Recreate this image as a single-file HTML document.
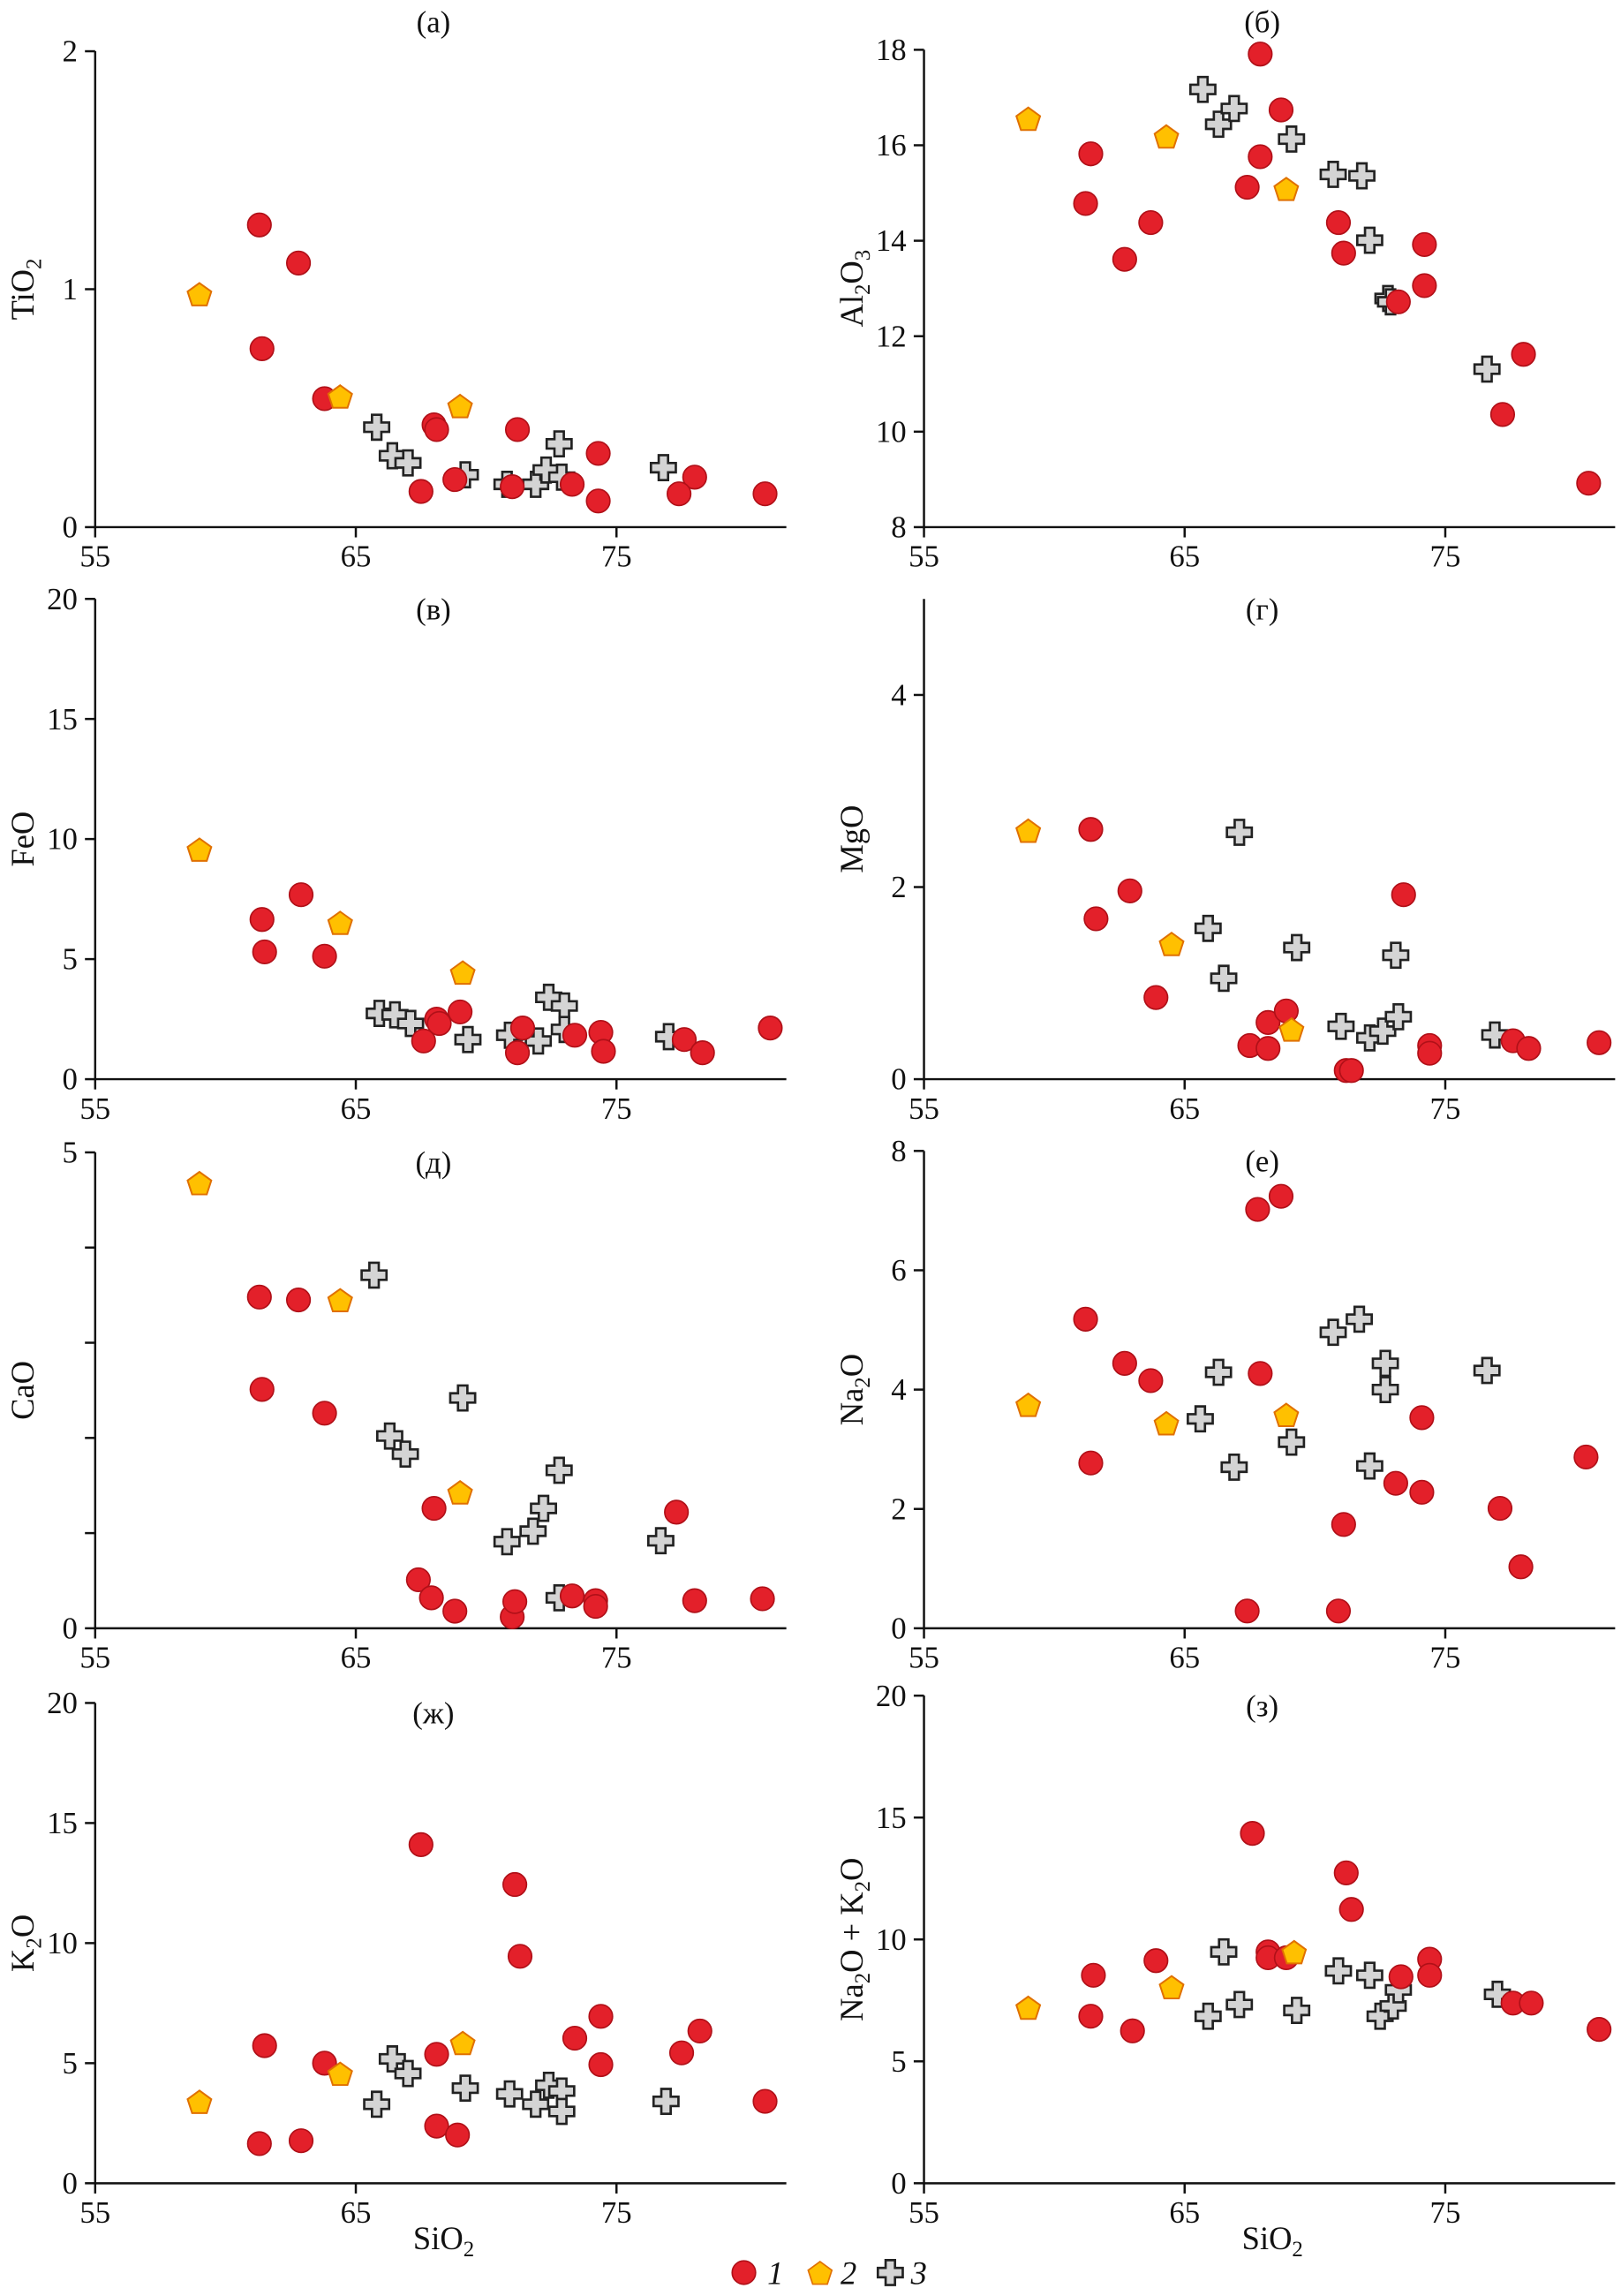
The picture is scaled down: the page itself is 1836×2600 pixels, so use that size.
<!DOCTYPE html>
<html><head><meta charset="utf-8"><style>
html,body{margin:0;padding:0;background:#fff}
svg{display:block}
text{font-family:"Liberation Serif","DejaVu Serif",serif;fill:#111}
</style></head><body>
<svg id="chart" width="1836" height="2600" viewBox="0 0 1107 1568" preserveAspectRatio="none" xmlns="http://www.w3.org/2000/svg"></svg>
<script>
const panelLabels=["(а)","(б)","(в)","(г)","(д)","(е)","(ж)","(з)"];
const panelYMax=[2,18,20,5,5,8,20,20];
const panelYMin=[0,8,0,0,0,0,0,0];
const panelYTicks=[[0,1,2],[8,10,12,14,16,18],[0,5,10,15,20],[0,2,4],[0,1,2,3,4,5],[0,2,4,6,8],[0,5,10,15,20],[0,5,10,15,20]];
const panelYTickLabels=[["0","1","2"],["8","10","12","14","16","18"],["0","5","10","15","20"],["0","2","4"],["0","","","","","5"],["0","2","4","6","8"],["0","5","10","15","20"],["0","5","10","15","20"]];
const xTicks=[55,65,75];
const red_a=[[61.3,1.27],[62.8,1.11],[61.4,0.75],[63.8,0.54],[68.0,0.43],[68.1,0.41],[71.2,0.41],[74.3,0.31],[68.8,0.20],[67.5,0.15],[71.0,0.17],[73.3,0.18],[78.0,0.21],[77.4,0.14],[74.3,0.11],[80.7,0.14]];
const orange_a=[[59.0,0.98],[64.4,0.55],[69.0,0.51]];
const cross_a=[[65.8,0.42],[66.4,0.30],[67.0,0.27],[69.2,0.22],[70.8,0.18],[71.9,0.18],[72.3,0.24],[72.8,0.35],[72.9,0.21],[76.8,0.25]];
const red_b=[[61.4,15.82],[61.2,14.78],[62.7,13.61],[63.7,14.38],[67.9,17.91],[68.7,16.74],[67.9,15.76],[67.4,15.12],[70.9,14.38],[71.1,13.74],[73.2,12.72],[74.2,13.92],[74.2,13.06],[78.0,11.62],[77.2,10.36],[80.5,8.92]];
const orange_b=[[59.0,16.56],[64.3,16.19],[68.9,15.09]];
const cross_b=[[65.7,17.17],[66.3,16.44],[66.9,16.77],[69.1,16.13],[70.7,15.39],[71.8,15.36],[72.1,14.01],[72.8,12.79],[72.9,12.72],[76.6,11.31]];
const red_c=[[61.4,6.65],[61.5,5.30],[62.9,7.68],[63.8,5.12],[67.6,1.59],[68.1,2.50],[68.2,2.32],[69.0,2.80],[71.2,1.10],[71.4,2.13],[73.4,1.83],[74.4,1.95],[74.5,1.16],[77.6,1.65],[78.3,1.10],[80.9,2.13]];
const orange_c=[[59.0,9.57],[64.4,6.52],[69.1,4.45]];
const cross_c=[[65.9,2.74],[66.5,2.68],[67.1,2.32],[69.3,1.65],[70.9,1.83],[72.0,1.59],[72.4,3.41],[73.0,3.05],[73.0,2.07],[77.0,1.77]];
const red_d=[[61.4,2.60],[61.6,1.67],[62.9,1.96],[63.9,0.85],[68.2,0.59],[68.9,0.71],[67.5,0.35],[68.2,0.32],[71.2,0.09],[71.4,0.09],[73.4,1.92],[74.4,0.35],[74.4,0.27],[77.6,0.40],[78.2,0.32],[80.9,0.38]];
const orange_d=[[59.0,2.59],[64.5,1.41],[69.1,0.52]];
const cross_d=[[65.9,1.57],[66.5,1.05],[67.1,2.57],[69.3,1.37],[71.0,0.55],[72.1,0.43],[72.6,0.50],[73.1,1.29],[73.2,0.65],[76.9,0.46]];
const red_e=[[61.3,3.48],[62.8,3.45],[61.4,2.51],[63.8,2.26],[68.0,1.26],[67.4,0.51],[67.9,0.32],[68.8,0.18],[71.0,0.12],[71.1,0.28],[73.3,0.34],[74.2,0.29],[74.2,0.23],[77.3,1.22],[78.0,0.29],[80.6,0.31]];
const orange_e=[[59.0,4.68],[64.4,3.45],[69.0,1.43]];
const cross_e=[[65.7,3.71],[66.3,2.02],[66.9,1.83],[69.1,2.42],[70.8,0.91],[71.8,1.02],[72.2,1.26],[72.8,1.66],[72.8,0.32],[76.7,0.92]];
const red_f=[[61.2,5.18],[61.4,2.77],[62.7,4.44],[63.7,4.15],[67.8,7.02],[68.7,7.24],[67.9,4.27],[67.4,0.29],[70.9,0.29],[71.1,1.74],[73.1,2.43],[74.1,3.53],[74.1,2.28],[77.1,2.01],[77.9,1.03],[80.4,2.87]];
const orange_f=[[59.0,3.75],[64.3,3.44],[68.9,3.58]];
const cross_f=[[65.6,3.51],[66.3,4.29],[66.9,2.70],[69.1,3.12],[70.7,4.96],[71.7,5.18],[72.1,2.72],[72.7,4.44],[72.7,4.00],[76.6,4.32]];
const red_g=[[61.3,1.65],[62.9,1.77],[61.5,5.73],[63.8,5.0],[67.5,14.1],[68.1,5.37],[68.1,2.38],[68.9,2.01],[71.1,12.44],[71.3,9.45],[73.4,6.04],[74.4,6.95],[74.4,4.94],[77.5,5.43],[78.2,6.34],[80.7,3.41]];
const orange_g=[[59.0,3.4],[64.4,4.57],[69.1,5.85]];
const cross_g=[[65.8,3.29],[66.4,5.18],[67.0,4.57],[69.2,3.96],[70.9,3.72],[71.9,3.29],[72.4,4.08],[72.9,3.84],[72.9,2.99],[76.9,3.41]];
const red_h=[[61.4,6.85],[61.5,8.53],[63.0,6.25],[63.9,9.13],[67.6,14.35],[68.2,9.49],[68.2,9.25],[68.9,9.25],[71.2,12.73],[71.4,11.23],[73.3,8.47],[74.4,9.19],[74.4,8.53],[77.6,7.39],[78.3,7.39],[80.9,6.31]];
const orange_h=[[59.0,7.21],[64.5,8.05],[69.2,9.49]];
const cross_h=[[65.9,6.85],[66.5,9.49],[67.1,7.33],[69.3,7.09],[70.9,8.71],[72.1,8.53],[72.5,6.85],[73.0,7.27],[73.2,7.93],[77.0,7.75]];

const reds=[red_a,red_b,red_c,red_d,red_e,red_f,red_g,red_h];
const oranges=[orange_a,orange_b,orange_c,orange_d,orange_e,orange_f,orange_g,orange_h];
const crosses=[cross_a,cross_b,cross_c,cross_d,cross_e,cross_f,cross_g,cross_h];

const NS="http://www.w3.org/2000/svg";
const svg=document.getElementById('chart');
function mk(tag,attrs,parent){const e=document.createElementNS(NS,tag);for(const k in attrs)e.setAttribute(k,attrs[k]);(parent||svg).appendChild(e);return e;}
const geo=[[65,537,360,35],[631,1103,360,34],[65,537,737,409],[631,1103,737,409],[65,537,1112,787],[631,1103,1112,786],[65,537,1491,1163],[631,1103,1491,1158]];
const yTitles=[["TiO","2",""],["Al","2","O","3"],["FeO"],["MgO"],["CaO"],["Na","2","O"],["K","2","O"],["Na","2","O + K","2","O"]];
const names=["a","b","v","g","d","e","zh","z"];
function pent(cx,cy,r){let p=[];for(let i=0;i<5;i++){const a=-Math.PI/2+i*2*Math.PI/5;p.push((cx+r*Math.cos(a)).toFixed(1)+","+(cy+r*Math.sin(a)).toFixed(1));}return p.join(" ");}
function crossPath(cx,cy){const a=3.2,b=8.5;return `M${cx-a},${cy-b}H${cx+a}V${cy-a}H${cx+b}V${cy+a}H${cx+a}V${cy+b}H${cx-a}V${cy+a}H${cx-b}V${cy-a}H${cx-a}Z`;}
for(let p=0;p<8;p++){
  const [x0,x1,yb,yt]=geo[p];
  const xs=v=>x0+(v-55)*17.8;
  const ys=v=>yb-(v-panelYMin[p])/(panelYMax[p]-panelYMin[p])*(yb-yt);
  const g=mk('g',{});
  
  
  const ax=mk('path',{d:`M${x0},${yt}V${yb}H${x1}`,stroke:'#111','stroke-width':1.5,fill:'none'},g);
  
  
  panelYTicks[p].forEach((t,i)=>{const y=ys(t);mk('line',{x1:x0-7,x2:x0,y1:y,y2:y,stroke:'#111','stroke-width':1.5},g);
    if(panelYTickLabels[p][i]){const tx=mk('text',{x:x0-12,y:y+7,'text-anchor':'end','font-size':21},g);tx.textContent=panelYTickLabels[p][i];
    }});
  xTicks.forEach(t=>{const x=xs(t);mk('line',{x1:x,x2:x,y1:yb,y2:yb+7,stroke:'#111','stroke-width':1.5},g);
    const tx=mk('text',{x:x,y:yb+27,'text-anchor':'middle','font-size':21},g);tx.textContent=t;
    });
  const lt=mk('text',{x:(x0+x1)/2-5,y:p<2?22:yt+14,'text-anchor':'middle','font-size':21},g);
  lt.textContent=panelLabels[p];
  
  const yt2=mk('text',{transform:`translate(${x0-42},${(yt+yb)/2}) rotate(-90)`,'text-anchor':'middle','font-size':22},g);
  
  const parts=yTitles[p];
  parts.forEach((s,i)=>{const ts=mk('tspan',{},yt2);ts.textContent=s;
    if(i%2==1){ts.setAttribute('font-size',15);ts.setAttribute('dy',5);}else if(i>0){ts.setAttribute('dy',-5);}});
  if(p>=6){const xt=mk('text',{x:xs(65)+60,y:yb+45,'text-anchor':'middle','font-size':22},g);
    
    const a=mk('tspan',{},xt);a.textContent='SiO';const b=mk('tspan',{dy:5,'font-size':15},xt);b.textContent='2';}
  crosses[p].forEach(d=>{const e=mk('path',{d:crossPath(xs(d[0]),ys(d[1])),fill:'#d4d4d4',stroke:'#222','stroke-width':1.6},g);
    });
  reds[p].forEach(d=>{const e=mk('circle',{cx:xs(d[0]),cy:ys(d[1]),r:8,fill:'#e3202a',stroke:'#b01018','stroke-width':1},g);
    });
  oranges[p].forEach(d=>{const e=mk('polygon',{points:pent(xs(d[0]),ys(d[1])+1,8.5),fill:'#ffc000',stroke:'#e07000','stroke-width':1.2},g);
    });
}
const lg=mk('g',{});

const l1=mk('circle',{cx:508,cy:1552,r:8,fill:'#e3202a',stroke:'#b01018'},lg);

const t1=mk('text',{x:524,y:1560,'font-size':22,'font-style':'italic'},lg);t1.textContent='1';

const l2=mk('polygon',{points:pent(560,1553,8.5),fill:'#ffc000',stroke:'#e07000'},lg);

const t2=mk('text',{x:574,y:1560,'font-size':22,'font-style':'italic'},lg);t2.textContent='2';

const l3=mk('path',{d:crossPath(608,1552),fill:'#d4d4d4',stroke:'#222','stroke-width':1.6},lg);

const t3=mk('text',{x:622,y:1560,'font-size':22,'font-style':'italic'},lg);t3.textContent='3';

</script>
</body></html>
